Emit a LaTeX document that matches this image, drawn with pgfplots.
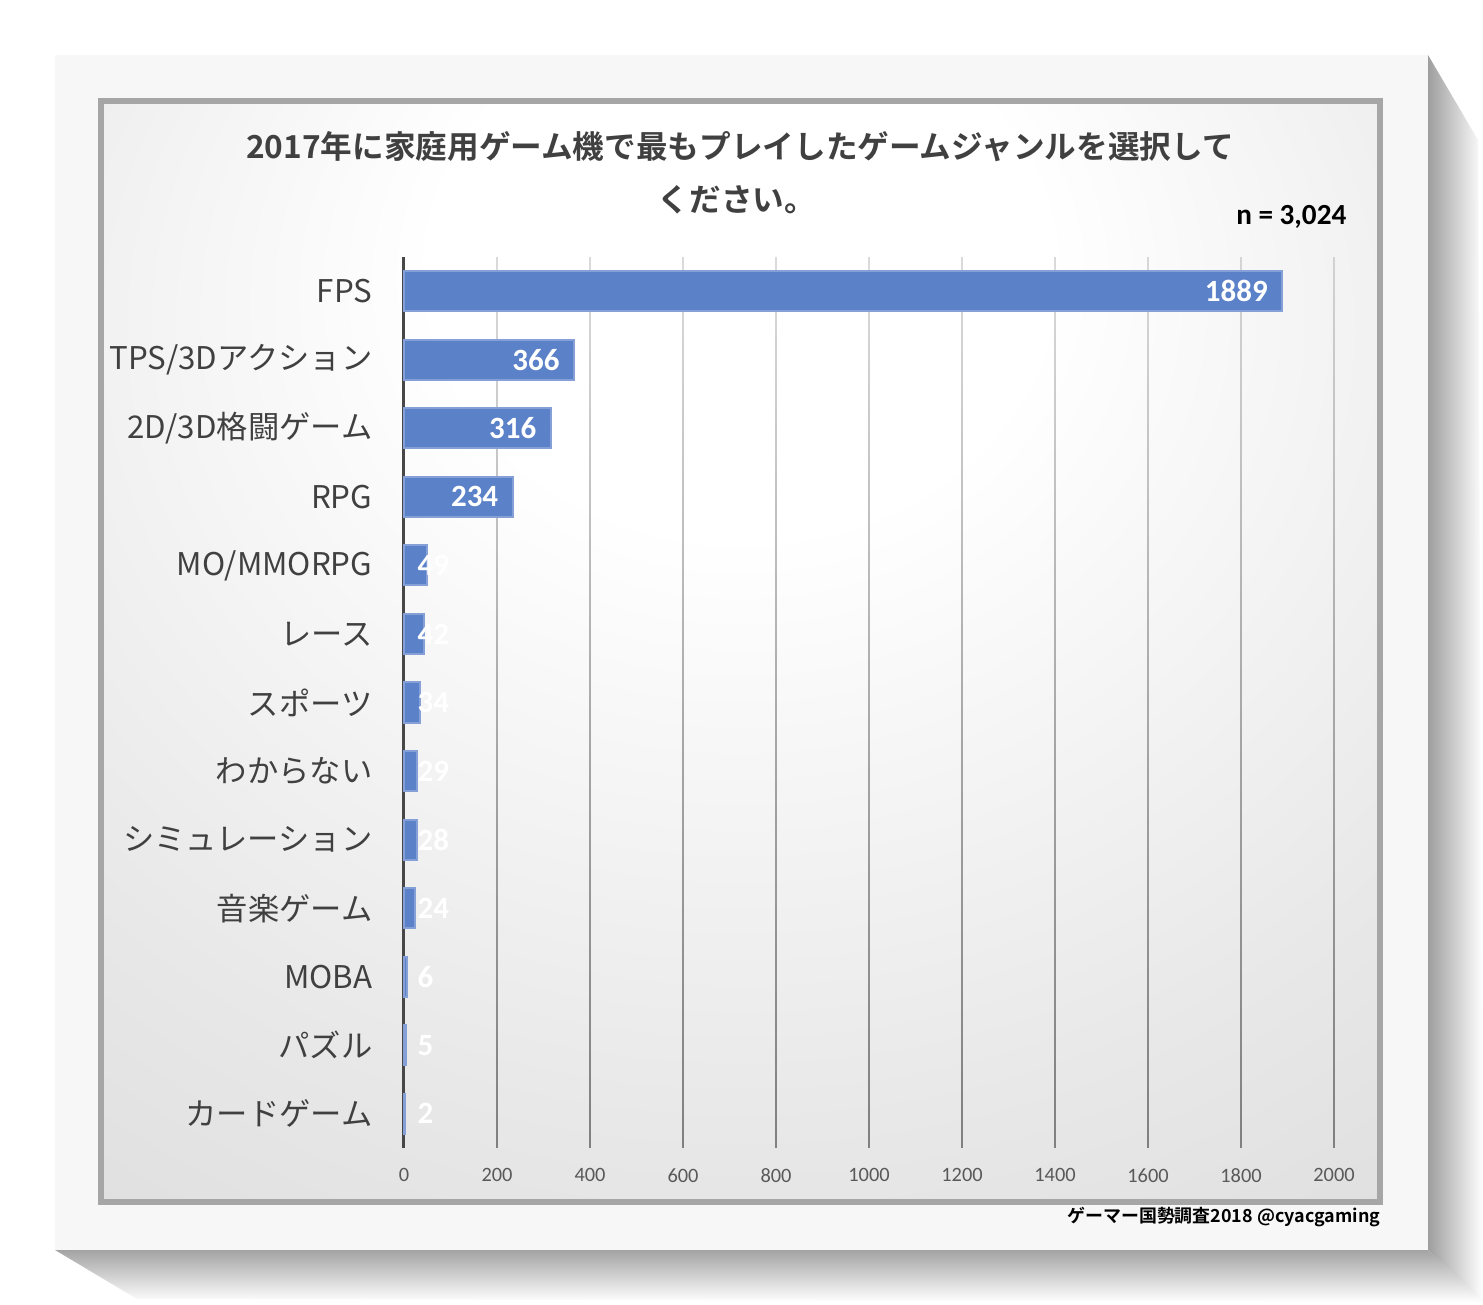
\documentclass[border=0pt]{standalone}
\usepackage{fontspec}
\setmainfont{Noto Sans CJK JP}[BoldFont={Noto Sans CJK JP Bold}]
\newfontfamily\carl{Carlito}
\usepackage{pgfplots}
\pgfplotsset{compat=1.18}
\usetikzlibrary{fadings}

\definecolor{barblue}{HTML}{5B81C9}
\definecolor{labgray}{HTML}{404040}
\definecolor{tickgray}{HTML}{595959}
\definecolor{framegray}{HTML}{A6A6A6}
\definecolor{paper}{HTML}{F7F7F7}

\pgfdeclareradialshading{panel}{\pgfpoint{0bp}{20bp}}{%
  color(0bp)=(white); color(12bp)=(white); color(34bp)=(black!9);
  color(52bp)=(black!15); color(72bp)=(black!18); color(90bp)=(black!22)}
\tikzfading[name=gridfade, top color=transparent!72, bottom color=transparent!0]

\begin{document}
\begin{tikzpicture}
% page, shadow, frame
\path[use as bounding box] (0,0) rectangle (148.3mm,130.5mm);
\fill[white] (0,0) rectangle (148.3mm,130.5mm);
\shade[left color=black!38, right color=white]
  (142.8mm,125.0mm) -- (147.8mm,116.5mm) -- (148.3mm,0.3mm) -- (142.8mm,5.5mm) -- cycle;
\shade[top color=black!36, bottom color=white]
  (5.5mm,5.5mm) -- (13.7mm,0.6mm) -- (148.3mm,0.3mm) -- (142.8mm,5.5mm) -- cycle;
\fill[paper] (5.5mm,5.5mm) rectangle (142.8mm,125.0mm);
\shade[shading=panel] (10.1mm,10.3mm) rectangle (138.0mm,120.4mm);
\draw[framegray, line width=0.55mm] (10.1mm,10.3mm) rectangle (138.0mm,120.4mm);

\begin{axis}[
    at={(40.4mm,15.7mm)}, anchor=south west,
    width=93mm, height=89.1mm, scale only axis,
    xmin=0, xmax=2000, ymin=-0.5, ymax=12.5, y dir=reverse,
    xtick={0,200,...,2000}, ytick={0,...,12},
    yticklabels={FPS, TPS/3Dアクション, 2D/3D格闘ゲーム, RPG, MO/MMORPG, レース,
      スポーツ, わからない, シミュレーション, 音楽ゲーム, MOBA, パズル, カードゲーム},
    axis lines*=left,
    x axis line style={draw=none},
    y axis line style={draw=black!72, line width=0.3mm},
    major tick length=0pt,
    xmajorgrids,
    major grid style={draw=black!50, line width=0.25mm, path fading=gridfade},
    xticklabel style={font=\carl\fontsize{5.8}{7}\selectfont, text=tickgray,
      anchor=north, inner sep=0pt, yshift=-2.0mm},
    yticklabel style={font=\fontsize{8.9}{10}\selectfont, text=labgray,
      anchor=east, inner sep=0pt, xshift=-3.1mm},
    /pgf/number format/assume math mode=true,
    /pgf/number format/1000 sep={},
    clip=false,
]
\addplot[xbar, bar width=4mm, bar shift=0pt, fill=barblue,
    draw=barblue!75!white, line width=0.2mm] coordinates {
    (1889,0) (366,1) (316,2) (234,3) (49,4) (42,5) (34,6)
    (29,7) (28,8) (24,9) (6,10) (5,11) (2,12)
};
% labels inside the long bars
\addplot[only marks, mark=*, mark size=0pt, draw=none, fill=none,
    point meta=explicit symbolic, nodes near coords,
    nodes near coords style={anchor=east, xshift=-1.4mm, text=white, inner sep=0pt,
      font=\carl\bfseries\fontsize{8.8}{10}\selectfont}] coordinates {
    (1889,0) [1889] (366,1) [366] (316,2) [316] (234,3) [234]
};
% labels of the short bars
\addplot[only marks, mark=*, mark size=0pt, draw=none, fill=none,
    point meta=explicit symbolic, nodes near coords,
    nodes near coords style={anchor=west, text=white, inner sep=0pt,
      font=\carl\bfseries\fontsize{8.8}{10}\selectfont}] coordinates {
    (28,4) [49] (28,5) [42] (28,6) [34] (28,7) [29] (28,8) [28]
    (28,9) [24] (28,10) [6] (28,11) [5] (28,12) [2]
};
\end{axis}

\node[font=\bfseries\fontsize{9}{11}\selectfont, text=labgray] at (74.0mm,115.8mm)
  {2017年に家庭用ゲーム機で最もプレイしたゲームジャンルを選択して};
\node[font=\bfseries\fontsize{9}{11}\selectfont, text=labgray] at (73.7mm,110.5mm)
  {ください。};
\node[anchor=east, inner sep=0pt, font=\carl\bfseries\fontsize{8.3}{10}\selectfont]
  at (134.7mm,108.8mm) {n = 3,024};
\node[anchor=east, inner sep=0pt, font=\bfseries\fontsize{5.1}{7}\selectfont]
  at (138.1mm,8.8mm) {ゲーマー国勢調査2018 @cyacgaming};
\end{tikzpicture}
\end{document}
